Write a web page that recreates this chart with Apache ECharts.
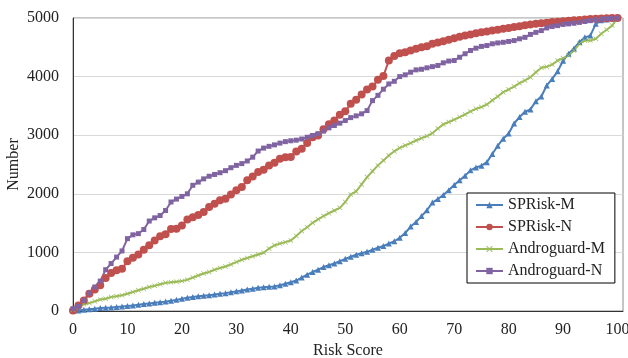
<!DOCTYPE html>
<html>
<head>
<meta charset="utf-8">
<script src="https://cdn.jsdelivr.net/npm/echarts@6/dist/echarts.min.js"></script>
<style>
html, body { margin: 0; padding: 0; background: #fff; }
#chart { width: 628px; height: 358px; }
</style>
</head>
<body>
<div id="chart"></div>
<script>
// values, one per risk score 0..100
var spriskM = [0,10,20,30,40,50,55,60,70,75,
  85,95,105,120,130,140,150,160,175,190,
  210,225,240,250,260,270,280,295,305,320,
  335,350,365,380,395,405,412,420,440,465,
  490,520,570,620,665,705,750,780,810,850,
  890,925,960,985,1010,1045,1080,1110,1150,1190,
  1250,1330,1440,1520,1620,1720,1850,1910,1980,2060,
  2150,2230,2310,2400,2450,2480,2540,2680,2820,2940,
  3030,3200,3310,3400,3440,3580,3660,3850,3960,4090,
  4270,4390,4480,4590,4670,4700,4900,4960,4975,4990,
  5000];
var spriskN = [10,95,180,295,365,440,565,650,695,720,
  850,910,965,1045,1120,1205,1275,1310,1400,1405,
  1460,1560,1600,1640,1690,1775,1830,1890,1915,1990,
  2060,2115,2230,2295,2370,2410,2485,2530,2600,2625,
  2630,2720,2770,2865,2965,2995,3100,3185,3250,3350,
  3410,3535,3605,3695,3780,3830,3945,4010,4275,4350,
  4400,4415,4445,4475,4500,4520,4560,4580,4605,4630,
  4655,4680,4700,4720,4740,4755,4770,4785,4800,4815,
  4830,4845,4860,4875,4888,4900,4910,4920,4930,4938,
  4945,4952,4960,4968,4976,4983,4988,4992,4995,4998,
  5000];
var androM = [20,80,115,135,165,195,210,240,250,270,
  295,325,355,380,410,430,455,480,490,500,
  510,535,570,605,640,665,705,735,760,795,
  835,875,905,935,965,995,1065,1120,1150,1175,
  1205,1280,1365,1430,1505,1565,1620,1670,1715,1760,
  1860,1990,2040,2160,2285,2385,2485,2570,2655,2725,
  2785,2825,2865,2910,2950,2985,3035,3115,3185,3225,
  3265,3310,3355,3405,3450,3480,3525,3595,3660,3735,
  3780,3830,3890,3935,3990,4075,4150,4170,4205,4275,
  4315,4360,4445,4560,4615,4615,4645,4730,4800,4870,
  5000];
var androN = [40,80,180,305,410,510,705,810,920,1025,
  1235,1300,1320,1390,1535,1590,1630,1715,1860,1910,
  1955,2000,2145,2200,2255,2300,2330,2360,2395,2445,
  2485,2515,2560,2625,2730,2780,2810,2835,2865,2890,
  2905,2915,2935,2965,2995,3025,3070,3125,3165,3205,
  3250,3300,3330,3365,3420,3590,3680,3785,3875,3920,
  4000,4030,4075,4115,4125,4150,4170,4190,4235,4265,
  4275,4330,4390,4445,4485,4515,4530,4560,4575,4585,
  4600,4615,4645,4670,4720,4755,4785,4830,4855,4870,
  4890,4900,4910,4925,4940,4955,4970,4980,4990,4995,
  5000];
var seriesNames = ['SPRisk-M', 'SPRisk-N', 'Androguard-M', 'Androguard-N'];

function pairs(vals) {
  return vals.map(function (v, i) { return [i, v]; });
}

var font = "'Liberation Serif', 'Times New Roman', serif";
var crossMark = 'path://M0,1L1,0L5,4L9,0L10,1L6,5L10,9L9,10L5,6L1,10L0,9L4,5Z';

function line(name, vals, color, symbol, size) {
  return {
    name: name,
    type: 'line',
    data: pairs(vals),
    symbol: symbol,
    symbolSize: size,
    showAllSymbol: true,
    lineStyle: { color: color, width: 2 },
    itemStyle: { color: color },
    emphasis: { disabled: true },
    animation: false
  };
}

var option = {
  textStyle: { fontFamily: font },
  grid: {
    left: 73, right: 5, top: 18, bottom: 47,
    containLabel: false, outerBoundsMode: 'none',
    show: true, borderColor: '#8c8c8c', borderWidth: 1
  },
  legend: {
    orient: 'vertical',
    left: 467, top: 193,
    padding: [4, 10, 4, 8],
    itemWidth: 27, itemHeight: 8, itemGap: 6,
    borderColor: '#000', borderWidth: 1,
    backgroundColor: '#fff',
    textStyle: { fontFamily: font, fontSize: 16, color: '#222' },
    data: seriesNames
  },
  xAxis: {
    type: 'value', min: 0, max: 101, interval: 10,
    name: 'Risk Score', nameLocation: 'middle', nameGap: 32,
    nameMoveOverlap: false,
    nameTextStyle: { fontFamily: font, fontSize: 16, color: '#222' },
    axisLine: { lineStyle: { color: '#333', width: 1 } },
    axisTick: { show: false },
    axisLabel: {
      fontFamily: font, fontSize: 16, color: '#222', margin: 11,
      showMaxLabel: false,
      formatter: function (v) { return v > 100 ? '' : String(v); }
    },
    splitLine: { show: false }
  },
  yAxis: {
    type: 'value', min: 0, max: 5000, interval: 1000,
    name: 'Number', nameLocation: 'middle', nameGap: 51, nameRotate: 90,
    nameMoveOverlap: false,
    nameTextStyle: { fontFamily: font, fontSize: 16, color: '#222' },
    axisLine: { show: true, lineStyle: { color: '#333', width: 1 } },
    axisTick: { show: false },
    axisLabel: {
      fontFamily: font, fontSize: 16, color: '#222', margin: 14,
      formatter: function (v) { return String(v); }
    },
    splitLine: { lineStyle: { color: '#d9d9d9', width: 1 } }
  },
  series: [
    line(seriesNames[0], spriskM, '#4a7ebb', 'triangle', 6),
    line(seriesNames[1], spriskN, '#c0504d', 'circle', 8),
    line(seriesNames[2], androM, '#9bbb59', crossMark, 5),
    line(seriesNames[3], androN, '#8064a2', 'rect', 5)
  ]
};

var myChart = echarts.init(document.getElementById('chart'), null, { renderer: 'canvas' });
myChart.setOption(option);
</script>
</body>
</html>
